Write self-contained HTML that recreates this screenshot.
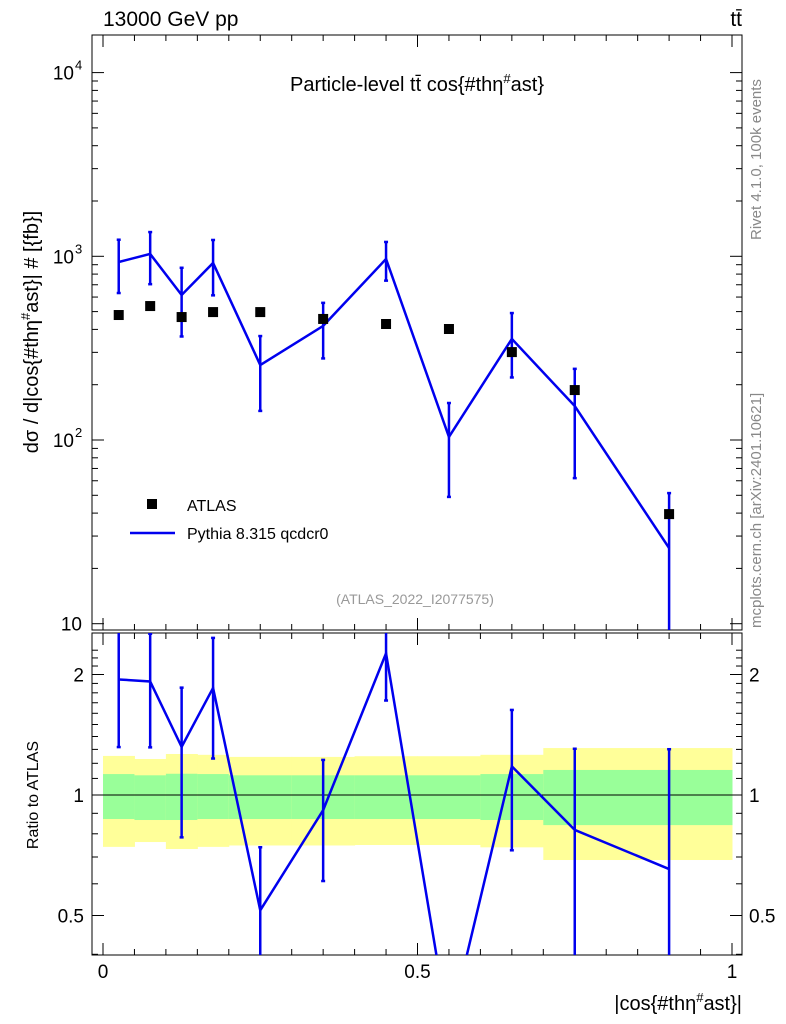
<!DOCTYPE html>
<html><head><meta charset="utf-8">
<style>
html,body{margin:0;padding:0;background:#fff;overflow:hidden;width:786px;height:1024px;}
svg{display:block;}
svg text{font-family:"Liberation Sans",sans-serif;}
</style></head>
<body>
<svg id="c" width="786" height="1024" xmlns="http://www.w3.org/2000/svg">
</svg>
<script>
const binCenters=[0.025,0.075,0.125,0.175,0.25,0.35,0.45,0.55,0.65,0.75,0.9];
const atlasVals=[479,536,467,497,497,456,428,402,301,187,39.5];
const mcVals=[931,1030,616,920,256,418,967,104,355,153,25.8];
const mcErrs=[300,325,250,307,112,140,230,55,136,91,25.6];
const bandEdges=[0,0.05,0.1,0.15,0.2,0.3,0.4,0.5,0.6,0.7,1.0];
const greenHi=[1.128,1.12,1.13,1.128,1.12,1.12,1.12,1.12,1.128,1.155];
const greenLo=[0.871,0.866,0.866,0.871,0.871,0.871,0.871,0.871,0.866,0.841];
const yellowHi=[1.252,1.23,1.266,1.26,1.245,1.245,1.25,1.25,1.26,1.31];
const yellowLo=[0.742,0.763,0.733,0.742,0.748,0.748,0.75,0.75,0.74,0.688];
const xTicks=[0,0.5,1];const xTickLabels=["0","0.5","1"];
const yMainTicks=[10,100,1000,10000];
const yRatioTicks=[0.5,1,2];const yRatioLabels=["0.5","1","2"];

const NS="http://www.w3.org/2000/svg";
const svg=document.getElementById('c');
const L=92,R=742,T1=35,B1=630,T2=633,B2=955;
const X=v=>103+629*v;
const Y=v=>440-183.7*(Math.log10(v)-2);
const YR=v=>795-120.5*Math.log2(v);
function el(t,a,p){const e=document.createElementNS(NS,t);for(const k in a)e.setAttribute(k,a[k]);(p||svg).appendChild(e);return e;}
function txt(s,a,p){const e=el('text',a,p);e.textContent=s;return e;}

const defs=el('defs',{});
const c1=el('clipPath',{id:'cp1'},defs);el('rect',{x:L,y:T1,width:R-L,height:B1-T1},c1);
const c2=el('clipPath',{id:'cp2'},defs);el('rect',{x:L,y:T2,width:R-L,height:B2-T2},c2);

const gb=el('g',{'clip-path':'url(#cp2)'});


for(let i=0;i<bandEdges.length-1;i++){
  const x0=X(bandEdges[i]),x1=X(bandEdges[i+1]);
  const ry=el('rect',{x:x0,y:YR(yellowHi[i]),width:x1-x0+0.5,height:YR(yellowLo[i])-YR(yellowHi[i]),fill:'#ffff99'},gb);
  
  
  const rg=el('rect',{x:x0,y:YR(greenHi[i]),width:x1-x0+0.5,height:YR(greenLo[i])-YR(greenHi[i]),fill:'#99ff99'},gb);
  
  
}
el('line',{x1:L,x2:R,y1:YR(1),y2:YR(1),stroke:'#000','stroke-width':1});

const f1=el('rect',{x:L,y:T1,width:R-L,height:B1-T1,fill:'none',stroke:'#000','stroke-width':1});

const f2=el('rect',{x:L,y:T2,width:R-L,height:B2-T2,fill:'none',stroke:'#000','stroke-width':1});


for(let i=0;i<=20;i++){const v=i/20;const x=X(v);const big=i%10==0;const l=big?12:6;
  el('line',{x1:x,x2:x,y1:B2,y2:B2-l,stroke:'#000'});el('line',{x1:x,x2:x,y1:T2,y2:T2+l,stroke:'#000'});
  el('line',{x1:x,x2:x,y1:B1,y2:B1-l,stroke:'#000'});el('line',{x1:x,x2:x,y1:T1,y2:T1+l,stroke:'#000'});}
xTicks.forEach((v,i)=>{const t=txt(xTickLabels[i],{x:X(v),y:978,'font-size':19,'text-anchor':'middle'});
  });

for(let d=1;d<=4;d++){for(let m=1;m<=9;m++){const v=m*Math.pow(10,d);const y=Y(v);if(y<T1||y>B1)continue;const l=m==1?12:6;
  el('line',{x1:L,x2:L+l,y1:y,y2:y,stroke:'#000'});el('line',{x1:R,x2:R-l,y1:y,y2:y,stroke:'#000'});}}
yMainTicks.forEach(v=>{const e=Math.log10(v);const y=Y(v);
  let t;
  if(e==1){t=txt('10',{x:82,y:y+7,'font-size':19,'text-anchor':'end'});}
  else{t=txt('10',{x:74,y:y+7,'font-size':19,'text-anchor':'end'});txt(String(e),{x:75,y:y-3,'font-size':13});}
  });

const rmin=[0.4,0.5,0.6,0.7,0.8,0.9,1,1.1,1.2,1.3,1.4,1.5,1.6,1.7,1.8,1.9,2,2.1,2.2,2.3];
rmin.forEach(v=>{const y=YR(v);if(y<T2||y>B2)return;const l=(v==0.5||v==1||v==2)?12:6;
  el('line',{x1:L,x2:L+l,y1:y,y2:y,stroke:'#000'});el('line',{x1:R,x2:R-l,y1:y,y2:y,stroke:'#000'});});
yRatioTicks.forEach((v,i)=>{const y=YR(v)+7;
  const a=txt(yRatioLabels[i],{x:84,y:y,'font-size':19,'text-anchor':'end'});
  const b=txt(yRatioLabels[i],{x:749,y:y,'font-size':19});});

const gm=el('g',{'clip-path':'url(#cp1)'});
const mcLine=el('polyline',{points:binCenters.map((c,i)=>X(c)+','+Y(mcVals[i])).join(' '),fill:'none',stroke:'#0000ee','stroke-width':2.5},gm);

binCenters.forEach((c,i)=>{const lo=Math.max(mcVals[i]-mcErrs[i],1);
  const e=el('line',{x1:X(c),x2:X(c),y1:Y(mcVals[i]+mcErrs[i]),y2:Y(lo),stroke:'#0000ee','stroke-width':2.5},gm);
  
  el('line',{x1:X(c)-2,x2:X(c)+2,y1:Y(mcVals[i]+mcErrs[i]),y2:Y(mcVals[i]+mcErrs[i]),stroke:'#0000ee','stroke-width':2.5},gm);
  if(lo>5)el('line',{x1:X(c)-2,x2:X(c)+2,y1:Y(lo),y2:Y(lo),stroke:'#0000ee','stroke-width':2.5},gm);});
binCenters.forEach((c,i)=>{const r=el('rect',{x:X(c)-5,y:Y(atlasVals[i])-5,width:10,height:10,fill:'#000'},gm);
  });

const gr=el('g',{'clip-path':'url(#cp2)'});
const rl=el('polyline',{points:binCenters.map((c,i)=>X(c)+','+YR(mcVals[i]/atlasVals[i])).join(' '),fill:'none',stroke:'#0000ee','stroke-width':2.5},gr);

binCenters.forEach((c,i)=>{const r=mcVals[i]/atlasVals[i],e=mcErrs[i]/atlasVals[i];const lo=Math.max(r-e,0.01);
  const b=el('line',{x1:X(c),x2:X(c),y1:YR(r+e),y2:YR(lo),stroke:'#0000ee','stroke-width':2.5},gr);
  
  el('line',{x1:X(c)-2,x2:X(c)+2,y1:YR(r+e),y2:YR(r+e),stroke:'#0000ee','stroke-width':2.5},gr);
  el('line',{x1:X(c)-2,x2:X(c)+2,y1:YR(lo),y2:YR(lo),stroke:'#0000ee','stroke-width':2.5},gr);});

let t;
t=txt('13000 GeV pp',{x:103,y:26,'font-size':21});
t=txt('tt̄',{x:742,y:26,'font-size':21,'text-anchor':'end'});
t=el('text',{x:417,y:91,'font-size':20,'text-anchor':'middle'});t.innerHTML='Particle-level tt̄ cos{#thη<tspan dy="-8" font-size="13">#</tspan><tspan dy="8">ast}</tspan>';

t=el('text',{transform:'translate(38,332) rotate(-90)','font-size':20,'text-anchor':'middle'});
t.innerHTML='dσ / d|cos{#thη<tspan dy="-8" font-size="13">#</tspan><tspan dy="8">ast}| # [{fb}]</tspan>';

t=txt('Ratio to ATLAS',{transform:'translate(38,795) rotate(-90)','font-size':16,'text-anchor':'middle'});

t=el('text',{x:742,y:1010,'font-size':20,'text-anchor':'end'});t.innerHTML='|cos{#thη<tspan dy="-8" font-size="13">#</tspan><tspan dy="8">ast}|</tspan>';

t=txt('Rivet 4.1.0,  100k events',{transform:'translate(761,240) rotate(-90)','font-size':15,fill:'#888'});

t=txt('mcplots.cern.ch [arXiv:2401.10621]',{transform:'translate(761,628) rotate(-90)','font-size':15,fill:'#888'});

t=txt('(ATLAS_2022_I2077575)',{x:415,y:604,'font-size':14,fill:'#999','text-anchor':'middle'});

const lg=el('g',{});
el('rect',{x:147,y:499,width:10,height:10,fill:'#000'},lg);
t=txt('ATLAS',{x:187,y:511,'font-size':16},lg);
el('line',{x1:130,x2:175,y1:533,y2:533,stroke:'#0000ee','stroke-width':2.5},lg);
t=txt('Pythia 8.315 qcdcr0',{x:187,y:539,'font-size':16},lg);
</script>
</body></html>
